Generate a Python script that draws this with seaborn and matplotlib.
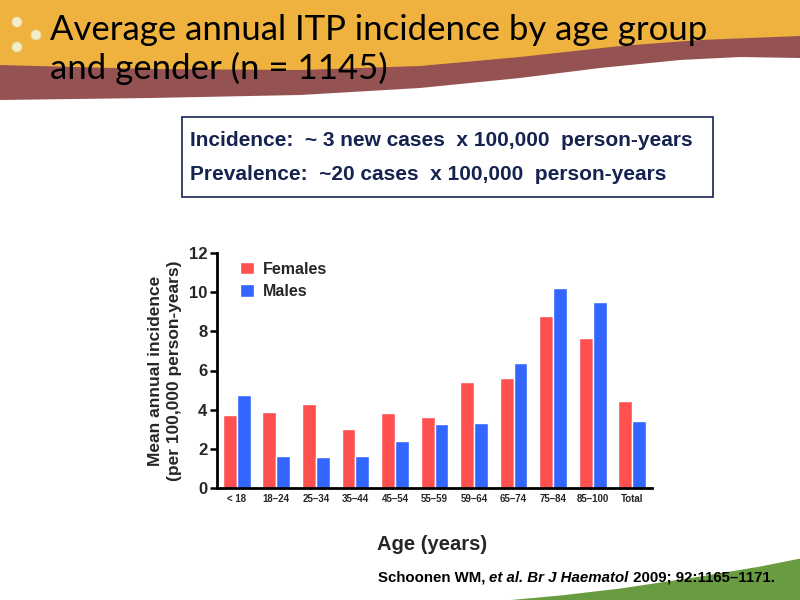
import numpy as np
import pandas as pd
import matplotlib
matplotlib.use("Agg")
import matplotlib.pyplot as plt
from matplotlib.patches import Rectangle, Circle
import seaborn as sns

# ==================== data ====================
ages = ["< 18", "18–24", "25–34", "35–44", "45–54", "55–59",
        "59–64", "65–74", "75–84", "85–100", "Total"]
females = [3.74, 3.86, 4.27, 3.03, 3.81, 3.64, 5.43, 5.63, 8.80, 7.68, 4.46]
males = [4.76, 1.61, 1.56, 1.65, 2.42, 3.28, 3.34, 6.40, 10.21, 9.48, 3.44]
genders = ["Females", "Males"]
y_ticks = [0, 2, 4, 6, 8, 10, 12]

df = pd.DataFrame({
    "Age": ages * 2,
    "Gender": ["Females"] * len(ages) + ["Males"] * len(ages),
    "Incidence": females + males,
})

# ==================== style ====================
sns.set_theme(style="white")
plt.rcParams["font.family"] = ["Liberation Sans", "DejaVu Sans"]

RED = "#FF5050"
BLUE = "#3366FF"
GOLD = "#EFB23E"
MAROON = "#955252"
GREEN = "#699B41"
NAVY = "#14234F"

fig = plt.figure(figsize=(8, 6), dpi=100)

# ---------- slide background (banner + green wave) ----------
bg = fig.add_axes([0, 0, 1, 1], zorder=0)
bg.set_xlim(0, 800)
bg.set_ylim(600, 0)
bg.axis("off")

xs = np.linspace(0, 800, 200)
top_wave = np.interp(xs, [0, 150, 300, 420, 520, 620, 700, 800], [65, 69, 70, 66, 57, 46, 40, 36])
bot_wave = np.interp(xs, [0, 150, 300, 420, 520, 600, 680, 740, 800], [100, 98, 95, 88, 78, 68, 60, 57, 58])
bg.fill_between(xs, 0, top_wave + 2, color=GOLD, lw=0)
bg.fill_between(xs, top_wave, bot_wave, color=MAROON, lw=0)

gx = np.linspace(505, 800, 100)
green_top = np.interp(gx, [505, 560, 620, 700, 760, 800], [600, 595, 588, 576, 566, 558])
bg.fill_between(gx, green_top, 600, color=GREEN, lw=0)

for cx, cy in [(17, 22), (36, 35), (17, 47)]:
    bg.add_patch(Circle((cx, cy), 5, color="#F3EDC8", ec="#E0D9A8", lw=0.5))

# ---------- title ----------
fig.text(50 / 800, 1 - 30 / 600, "Average annual ITP incidence by age group",
         fontsize=25, family=["Lato", "DejaVu Sans"], color="black", va="center", ha="left")
fig.text(50 / 800, 1 - 68 / 600, "and gender (n = 1145)",
         fontsize=25, family=["Lato", "DejaVu Sans"], color="black", va="center", ha="left")

# ---------- info box ----------
bg.add_patch(Rectangle((182, 117), 531, 80, fill=False, ec=NAVY, lw=1.2))
fig.text(190 / 800, 1 - 140 / 600, "Incidence:  ~ 3 new cases  x 100,000  person-years",
         fontsize=15, fontweight="bold", color=NAVY, va="center", ha="left")
fig.text(190 / 800, 1 - 174 / 600, "Prevalence:  ~20 cases  x 100,000  person-years",
         fontsize=15, fontweight="bold", color=NAVY, va="center", ha="left")

# ---------- bar chart ----------
ax = fig.add_axes([217 / 800, 1 - 488 / 600, 435 / 800, 235 / 600], zorder=2)
ax.patch.set_alpha(0)
sns.barplot(data=df, x="Age", y="Incidence", hue="Gender", hue_order=genders,
            order=ages, palette=[RED, BLUE], width=0.7, gap=0,
            saturation=1, ax=ax, legend=True)

ax.set_xlim(-0.5, len(ages) - 0.5)
ax.set_ylim(0, 12)
ax.set_yticks(y_ticks)
ax.set_yticklabels([str(t) for t in y_ticks], fontsize=12, fontweight="bold")
ax.set_xticks(range(len(ages)))
ax.set_xticklabels(ages, fontsize=7, fontweight="bold")
ax.set_xticks(np.arange(-0.5, len(ages)), minor=True)
ax.tick_params(axis="x", which="major", length=0, pad=4)
ax.tick_params(axis="x", which="minor", length=5, width=2.2, color="black", direction="out")
ax.tick_params(axis="y", which="major", length=5, width=1.8, color="black", direction="out", pad=2)
ax.tick_params(bottom=True, left=True)

sns.despine(ax=ax)
for side in ["left", "bottom"]:
    ax.spines[side].set_linewidth(2)
    ax.spines[side].set_color("black")

ax.set_xlabel("")
ax.set_ylabel("Mean annual incidence\n(per 100,000 person-years)",
              fontsize=12.5, fontweight="bold", labelpad=5, linespacing=1.35)

leg = ax.legend(loc="upper left", bbox_to_anchor=(0.02, 1.025), frameon=False,
                handlelength=0.85, handleheight=0.85, handletextpad=0.6,
                labelspacing=0.45, prop={"size": 11.5, "weight": "bold"})

fig.text(432 / 800, 1 - 545 / 600, "Age (years)", fontsize=14.5, fontweight="bold",
         ha="center", va="center")

# ---------- citation (mixed italic) ----------
renderer = fig.canvas.get_renderer()
pieces = [("Schoonen WM, ", "normal"), ("et al. Br J Haematol", "italic"),
          (" 2009; 92:1165–1171.", "normal")]
x = 378 / 800
for txt, style in pieces:
    t = fig.text(x, 1 - 582 / 600, txt, fontsize=10.8, fontweight="bold", style=style,
                 ha="left", va="baseline", color="black")
    bb = t.get_window_extent(renderer=renderer)
    x += bb.width / fig.bbox.width

fig.savefig("out.png", dpi=100)
